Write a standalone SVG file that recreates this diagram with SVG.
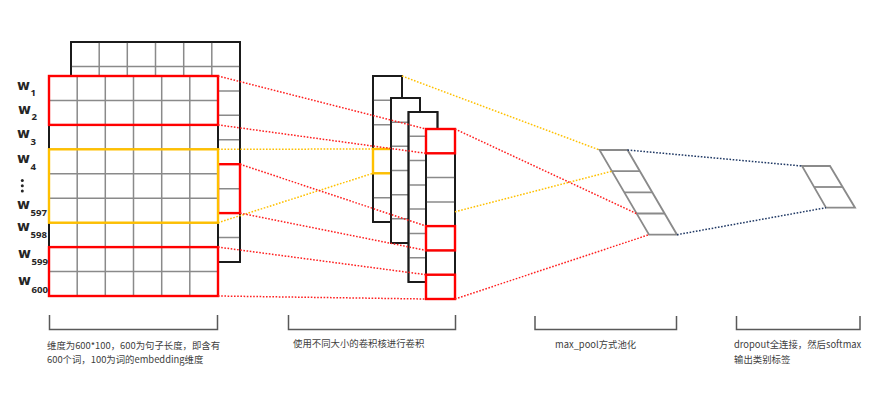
<svg xmlns="http://www.w3.org/2000/svg" width="873" height="419" viewBox="0 0 873 419">
<style>
.bg{fill:#fff}
.box{fill:#fff;stroke:#1a1a1a;stroke-width:1.8}
.grid{stroke:#8a8a8a;stroke-width:1.5;fill:none}
.red{fill:none;stroke:#ff0000;stroke-width:2.4}
.yel{fill:none;stroke:#ffc000;stroke-width:2.4}
.dr{stroke:#ff2020;stroke-width:1.5;stroke-dasharray:1.6 1.6;fill:none}
.dy{stroke:#ffc000;stroke-width:1.5;stroke-dasharray:1.6 1.6;fill:none}
.db{stroke:#1f3864;stroke-width:1.5;stroke-dasharray:1.6 1.6;fill:none}
.par{fill:#fff;stroke:#8a8a8a;stroke-width:1.8}
.brk{fill:none;stroke:#595959;stroke-width:1.5}
.w{font-family:"DejaVu Sans",sans-serif;font-weight:bold;font-size:13.5px;fill:#262626}
.s{font-family:"Open Sans","DejaVu Sans",sans-serif;font-weight:bold;font-size:9.6px;fill:#262626}
.t{font-family:"Noto Sans CJK SC","Noto Sans",sans-serif;font-size:9.4px;fill:#404040}
</style>
<rect class="bg" x="0" y="0" width="873" height="419"/>

<g id="matrix-back">
<rect class="box" x="71" y="42" width="169" height="220"/>
<path class="grid" d="M99.2,42V262M127.3,42V262M155.5,42V262M183.7,42V262M211.8,42V262M71,66.4H240M71,90.9H240M71,115.3H240M71,139.8H240M71,164.2H240M71,188.7H240M71,213.1H240M71,237.6H240"/>
<rect class="box" x="71" y="42" width="169" height="220" style="fill:none"/>
<rect class="red" x="218" y="164.2" width="22" height="48.9"/>
</g>

<g id="matrix-front">
<rect class="box" x="49" y="76" width="169" height="220"/>
<path class="grid" d="M77.2,76V296M105.3,76V296M133.5,76V296M161.7,76V296M189.8,76V296M49,100.4H218M49,124.9H218M49,149.3H218M49,173.8H218M49,198.2H218M49,222.7H218M49,247.1H218M49,271.6H218"/>
<rect class="box" x="49" y="76" width="169" height="220" style="fill:none"/>
<rect class="red" x="49" y="76" width="169" height="48.9"/>
<rect class="yel" x="49" y="149.3" width="169" height="73.4"/>
<rect class="red" x="49" y="247.1" width="169" height="48.9"/>
</g>

<g id="word-labels">
<text class="w" x="17" y="89.5" textLength="13" lengthAdjust="spacingAndGlyphs">w</text><text class="s" x="30.5" y="95.5">1</text>
<text class="w" x="18" y="114" textLength="13" lengthAdjust="spacingAndGlyphs">w</text><text class="s" x="31.5" y="120">2</text>
<text class="w" x="17" y="138" textLength="13" lengthAdjust="spacingAndGlyphs">w</text><text class="s" x="30.5" y="144.5">3</text>
<text class="w" x="17" y="163" textLength="13" lengthAdjust="spacingAndGlyphs">w</text><text class="s" x="30.5" y="170">4</text>
<circle cx="22.3" cy="180.5" r="1.5" fill="#262626"/>
<circle cx="22.3" cy="185.8" r="1.5" fill="#262626"/>
<circle cx="22.3" cy="191" r="1.5" fill="#262626"/>
<text class="w" x="17" y="208.5" textLength="13" lengthAdjust="spacingAndGlyphs">w</text><text class="s" x="30.5" y="215.5">597</text>
<text class="w" x="17" y="230.5" textLength="13" lengthAdjust="spacingAndGlyphs">w</text><text class="s" x="30.5" y="238">598</text>
<text class="w" x="18" y="257.5" textLength="13" lengthAdjust="spacingAndGlyphs">w</text><text class="s" x="31.5" y="265">599</text>
<text class="w" x="18" y="284.5" textLength="13" lengthAdjust="spacingAndGlyphs">w</text><text class="s" x="31.5" y="293">600</text>
</g>

<g id="kernel-1">
<rect class="box" x="373" y="76" width="29" height="146"/>
<path class="grid" d="M373,100.3H402M373,124.7H402M373,149H402M373,173.3H402M373,197.7H402"/>
<rect class="box" x="373" y="76" width="29" height="146" style="fill:none"/>
<rect class="yel" x="373" y="149" width="29" height="24.3"/>
</g>
<g id="kernel-2">
<rect class="box" x="391" y="98" width="29" height="145"/>
<path class="grid" d="M391,122.2H420M391,146.3H420M391,170.5H420M391,194.7H420M391,218.8H420"/>
<rect class="box" x="391" y="98" width="29" height="145" style="fill:none"/>
</g>
<g id="kernel-3">
<rect class="box" x="408.5" y="112" width="29" height="170"/>
<path class="grid" d="M408.5,136.3H437.5M408.5,160.6H437.5M408.5,184.9H437.5M408.5,209.1H437.5M408.5,233.4H437.5M408.5,257.7H437.5"/>
<rect class="box" x="408.5" y="112" width="29" height="170" style="fill:none"/>
</g>
<g id="kernel-4">
<rect class="box" x="426" y="129" width="29" height="170"/>
<path class="grid" d="M426,153.3H455M426,177.6H455M426,201.9H455M426,226.1H455M426,250.4H455M426,274.7H455"/>
<rect class="box" x="426" y="129" width="29" height="170" style="fill:none"/>
<rect class="red" x="426" y="129" width="29" height="24.3"/>
<rect class="red" x="426" y="226.1" width="29" height="24.3"/>
<rect class="red" x="426" y="274.7" width="29" height="24.3"/>
</g>

<g id="pool">
<polygon class="par" points="599.5,150 627.5,150 677,234.7 649,234.7"/>
<path class="grid" style="stroke-width:1.8" d="M611.9,171.2H639.9M624,192.4H652M636.3,213.5H664.3"/>
</g>

<g id="output">
<polygon class="par" points="802,166 830,166 855,207.7 826,207.7"/>
<path class="grid" style="stroke-width:1.8" d="M814.1,187H842.1"/>
</g>

<g id="connectors">
<line class="dr" x1="218" y1="76" x2="426" y2="129"/>
<line class="dr" x1="218" y1="124.9" x2="426" y2="153.3"/>
<line class="dy" x1="218" y1="149.3" x2="373" y2="149"/>
<line class="dy" x1="218" y1="222.7" x2="373" y2="173.3"/>
<line class="dr" x1="240" y1="164.2" x2="426" y2="226.1"/>
<line class="dr" x1="240" y1="213.1" x2="426" y2="250.4"/>
<line class="dr" x1="218" y1="247.1" x2="426" y2="274.7"/>
<line class="dr" x1="218" y1="296" x2="426" y2="299"/>
<line class="dy" x1="402" y1="76" x2="599.5" y2="150"/>
<line class="dy" x1="455" y1="211.8" x2="611.9" y2="171.2"/>
<line class="dr" x1="455" y1="129" x2="636.3" y2="213.5"/>
<line class="dr" x1="455" y1="299" x2="649" y2="234.7"/>
<line class="db" x1="627.5" y1="150" x2="802" y2="166"/>
<line class="db" x1="677" y1="234.7" x2="826" y2="207.7"/>
</g>

<g id="captions">
<path class="brk" d="M49.5,315V329.5H217.5V315"/>
<path class="brk" d="M288.5,315V329.5H455.5V315"/>
<path class="brk" d="M535,316V329.5H676.5V316"/>
<path class="brk" d="M736.5,316V329.5H860V316"/>
<text class="t" x="47" y="349">维度为600*100，600为句子长度，即含有</text>
<text class="t" x="47" y="363">600个词，100为词的embedding维度</text>
<text class="t" x="293" y="347">使用不同大小的卷积核进行卷积</text>
<text class="t" x="555" y="348">max_pool方式池化</text>
<text class="t" x="734" y="348">dropout全连接，然后softmax</text>
<text class="t" x="734" y="363">输出类别标签</text>
</g>
</svg>
